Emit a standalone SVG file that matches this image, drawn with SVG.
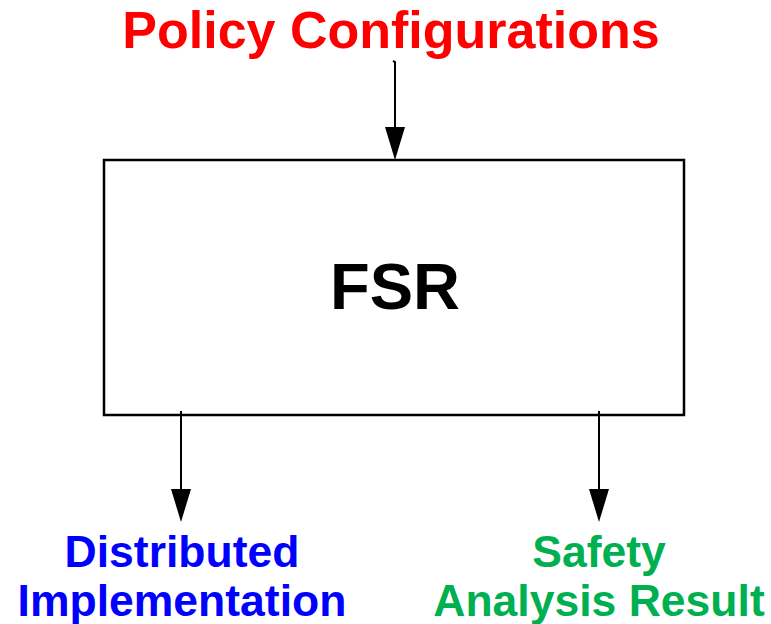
<svg xmlns="http://www.w3.org/2000/svg" width="771" height="624" viewBox="0 0 771 624">
  <style>
    .lbl { font-family: "Liberation Sans", Arial, sans-serif; font-weight: bold; text-anchor: middle; }
    .wire { stroke: #000; stroke-width: 2; fill: none; }
    .head { fill: #000; }
  </style>
  <rect width="771" height="624" fill="#fff"/>

  <g id="policy">
    <text class="lbl" x="391" y="48" font-size="52" fill="#ff0000">Policy Configurations</text>
  </g>

  <g id="fsr">
    <rect x="104" y="160" width="580" height="255" fill="#fff" stroke="#000" stroke-width="2.5"/>
    <text class="lbl" x="395" y="309" font-size="65" fill="#000">FSR</text>
  </g>

  <g id="distributed">
    <text class="lbl" x="182" y="567" font-size="44.5" fill="#0000ff">Distributed</text>
    <text class="lbl" x="182" y="616" font-size="44.5" fill="#0000ff">Implementation</text>
  </g>

  <g id="safety">
    <text class="lbl" x="599" y="567" font-size="44.5" fill="#00b050">Safety</text>
    <text class="lbl" x="599" y="616" font-size="44.5" fill="#00b050">Analysis Result</text>
  </g>

  <g id="connectors">
    <path class="wire" d="M393 61 L395 62 L395 128"/>
    <path class="head" d="M385 127 L405 127 L395 160 Z"/>
    <path class="wire" d="M181 411 L181 490"/>
    <path class="head" d="M171 489 L191 489 L181 522 Z"/>
    <path class="wire" d="M599 411 L599 490"/>
    <path class="head" d="M589 489 L609 489 L599 522 Z"/>
  </g>
</svg>
